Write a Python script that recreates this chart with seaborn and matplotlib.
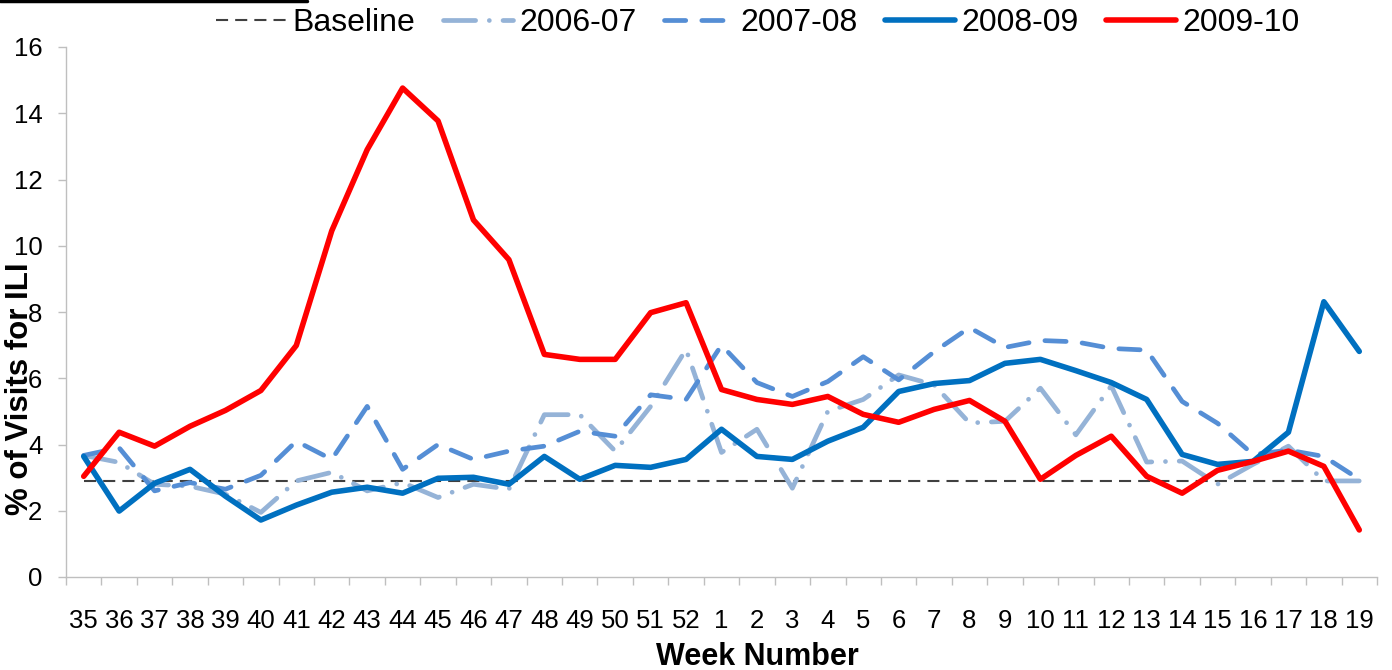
import matplotlib as mpl
import matplotlib.pyplot as plt
from matplotlib.lines import Line2D
import numpy as np
import pandas as pd
import seaborn as sns

# data
weeks = ['35', '36', '37', '38', '39', '40', '41', '42', '43', '44', '45', '46',
         '47', '48', '49', '50', '51', '52', '1', '2', '3', '4', '5', '6', '7',
         '8', '9', '10', '11', '12', '13', '14', '15', '16', '17', '18', '19']
baseline = [2.9] * len(weeks)
s0607 = [3.67, 3.46, 2.8, 2.74, 2.5, 1.95, 2.9, 3.16, 2.6, 2.85, 2.4, 2.8,
         2.65, 4.9, 4.9, 3.8, 5.15, 6.87, 3.76, 4.46, 2.68, 5.0, 5.36, 6.1,
         5.8, 4.65, 4.7, 5.7, 4.29, 5.77, 3.47, 3.5, 2.8, 3.4, 3.95, 2.9, 2.9]
s0708 = [3.67, 3.9, 2.6, 2.85, 2.65, 3.07, 4.1, 3.55, 5.15, 3.25, 4.0, 3.55,
         3.8, 3.95, 4.4, 4.25, 5.5, 5.36, 7.0, 5.87, 5.45, 5.9, 6.65, 5.95,
         6.8, 7.53, 6.93, 7.14, 7.1, 6.9, 6.85, 5.3, 4.64, 3.7, 3.83, 3.64, 2.95]
s0809 = [3.64, 1.99, 2.83, 3.25, 2.44, 1.72, 2.17, 2.56, 2.71, 2.53, 2.98, 3.01,
         2.80, 3.64, 2.95, 3.37, 3.31, 3.55, 4.46, 3.64, 3.55, 4.10, 4.52, 5.60,
         5.84, 5.93, 6.45, 6.57, 6.23, 5.87, 5.36, 3.70, 3.40, 3.49, 4.37, 8.31, 6.81]
s0910 = [3.04, 4.37, 3.95, 4.55, 5.03, 5.63, 6.99, 10.45, 12.9, 14.76, 13.77, 10.78,
         9.58, 6.72, 6.57, 6.57, 7.98, 8.28, 5.66, 5.36, 5.21, 5.45, 4.91, 4.67,
         5.06, 5.33, 4.70, 2.95, 3.67, 4.25, 3.04, 2.53, 3.22, 3.49, 3.80, 3.34, 1.42]

series = [
    ('Baseline', baseline, '#404040', 1.5, (0, (5.8, 3.4)), 'butt'),
    ('2006-07', s0607, '#95B3D7', 3.4, (0, (6.8, 2.9, 0.01, 2.9)), 'round'),
    ('2007-08', s0708, '#558ED5', 3.4, (0, (4.5, 3.4)), 'round'),
    ('2008-09', s0809, '#0070C0', 4.0, '-', 'round'),
    ('2009-10', s0910, '#FF0000', 4.0, '-', 'round'),
]

sns.set_style('white')
plt.rcParams['font.family'] = ['Liberation Sans', 'DejaVu Sans']
plt.rcParams['text.color'] = 'black'
plt.rcParams['axes.labelcolor'] = 'black'

fig = plt.figure(figsize=(13.92, 6.70), dpi=100)
ax = fig.add_axes([66 / 1392, 93 / 670, 1311 / 1392, 530 / 670])

xpos = np.arange(len(weeks))
for name, vals, col, lw, ls, cap in series:
    df = pd.DataFrame({'x': xpos, 'y': vals})
    sns.lineplot(data=df, x='x', y='y', ax=ax, color=col, lw=lw, linestyle=ls,
                 dash_capstyle=cap, solid_capstyle=cap, solid_joinstyle='round',
                 label=name)

ax.set_xlim(-0.5, len(weeks) - 0.5)
ax.set_ylim(0, 16)
ax.set_yticks(range(0, 17, 2))
ax.set_xticks(xpos)
ax.set_xticklabels(weeks)
ax.set_xticks(np.arange(-0.5, len(weeks)), minor=True)
ax.tick_params(axis='x', which='major', length=0, pad=23, labelsize=18.5, labelcolor='black')
ax.tick_params(axis='x', which='minor', length=6, width=1, color='#BFBFBF', direction='out')
ax.tick_params(axis='y', length=6, width=1, color='#BFBFBF', direction='out', pad=11,
               labelsize=18.5, labelcolor='black')
ax.xaxis.set_ticks_position('bottom')
ax.yaxis.set_ticks_position('left')

for s in ['top', 'right']:
    ax.spines[s].set_visible(False)
for s in ['left', 'bottom']:
    ax.spines[s].set_color('#BFBFBF')
    ax.spines[s].set_linewidth(1)

ax.set_xlabel('Week Number', fontsize=22, fontweight='bold')
ax.xaxis.set_label_coords(0.527, -0.122)
ax.set_ylabel('% of Visits for ILI', fontsize=22.5, fontweight='bold')
ax.yaxis.set_label_coords(-0.024, 0.355)

handles, labels = ax.get_legend_handles_labels()
ax.get_legend().remove()
fig.legend(handles, labels, loc='center', bbox_to_anchor=(0.5445, 0.966), ncol=5,
           frameon=False, fontsize=23, handlelength=2.2, handletextpad=0.2,
           columnspacing=0.85, borderaxespad=0, borderpad=0)

# stray black rule at top-left of the original image
fig.add_artist(Line2D([0, 307 / 1392], [0.998, 0.998], color='black', lw=2.5,
                      transform=fig.transFigure))

fig.savefig('out.png', dpi=100)
